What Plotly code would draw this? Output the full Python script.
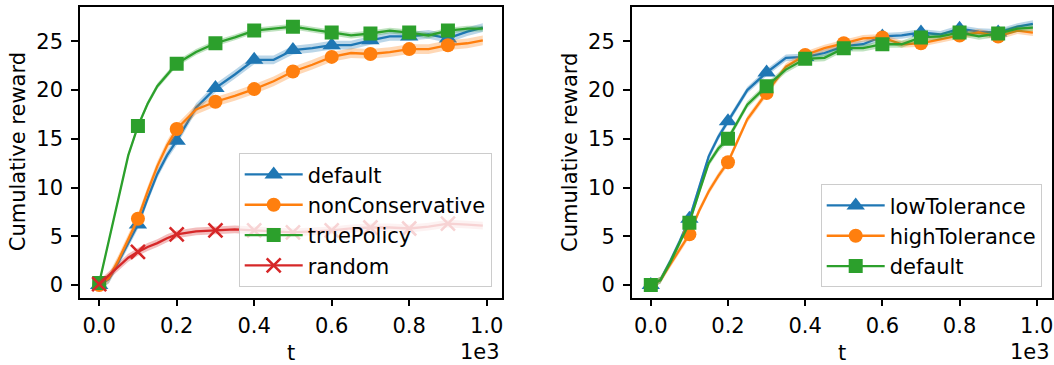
import plotly.graph_objects as go

# time steps at which the averaged reward curves are sampled
T = [0, 25, 50, 75, 100, 125, 150, 175, 200, 250, 300, 350, 400, 450, 500,
     550, 600, 650, 700, 750, 800, 850, 900, 950, 990]

# ---- left panel: policy comparison ----
left_names = ["default", "nonConservative", "truePolicy", "random"]
default_l = [0.0, 0.6, 2.4, 4.3, 6.2, 8.9, 11.4, 13.3, 14.8, 18.2, 20.2, 21.6, 23.1, 23.1,
             24.1, 24.3, 24.6, 24.6, 25.1, 25.5, 25.5, 25.7, 25.3, 26.0, 26.4]
nonconservative_l = [0.0, 0.7, 2.6, 4.7, 6.8, 9.6, 12.2, 14.3, 16.0, 18.0, 18.8, 19.4, 20.1,
                     20.9, 21.9, 22.6, 23.4, 23.8, 23.7, 23.9, 24.2, 24.2, 24.6, 24.8, 25.1]
truepolicy_l = [0.2, 4.6, 9.1, 13.3, 16.3, 18.6, 20.4, 21.6, 22.7, 23.9, 24.8, 25.4, 26.1,
                26.3, 26.5, 26.2, 25.9, 25.6, 25.8, 26.1, 25.9, 25.6, 26.1, 26.3, 26.3]
random_l = [0.1, 1.0, 2.0, 2.8, 3.4, 3.9, 4.3, 4.8, 5.2, 5.5, 5.6, 5.7, 5.6, 5.5, 5.4,
            5.5, 5.6, 5.8, 5.9, 5.9, 5.8, 6.0, 6.3, 6.2, 6.1]
left_std = [0.45, 0.5, 0.3, 0.4]

# ---- right panel: tolerance comparison ----
right_names = ["lowTolerance", "highTolerance", "default"]
lowtol_r = [0.0, 0.5, 2.4, 4.5, 6.8, 10.0, 13.2, 15.2, 16.8, 20.0, 21.8, 23.3, 23.4, 23.8,
            24.5, 24.7, 25.5, 25.6, 25.9, 25.7, 26.3, 26.0, 25.9, 26.5, 26.8]
hightol_r = [0.0, 0.5, 2.1, 3.6, 5.2, 7.6, 9.6, 11.2, 12.6, 17.0, 19.7, 22.4, 23.6, 24.3,
             24.8, 25.3, 25.4, 24.7, 24.8, 25.2, 25.6, 25.9, 25.5, 26.1, 25.9]
default_r = [0.0, 0.5, 2.3, 4.3, 6.4, 9.5, 12.5, 14.0, 15.0, 18.5, 20.4, 22.1, 23.2, 23.3,
             24.3, 24.3, 24.7, 24.7, 25.4, 25.5, 25.9, 25.5, 25.8, 26.3, 26.4]
right_std = [0.35, 0.35, 0.35]

x_tick_vals = [0, 200, 400, 600, 800, 1000]
x_tick_text = ["0.0", "0.2", "0.4", "0.6", "0.8", "1.0"]
y_tick_vals = [0, 5, 10, 15, 20, 25]

COLORS = ["#1f77b4", "#ff7f0e", "#2ca02c", "#d62728"]
FONT = "DejaVu Sans"
FS = 21

def rgba(hex_color, a):
    h = hex_color.lstrip("#")
    r, g, b = int(h[0:2], 16), int(h[2:4], 16), int(h[4:6], 16)
    return f"rgba({r},{g},{b},{a})"

def marker_style(sym, color):
    if sym == "x-thin":
        return dict(symbol=sym, size=14, color=color, line=dict(color=color, width=2.6))
    size = {"triangle-up": 16, "circle": 14, "square": 14}[sym]
    return dict(symbol=sym, size=size, color=color, line=dict(width=0))

fig = go.Figure()

def add_series(name, ys, std, color, sym, xa, ya, legend, group):
    lo = [v - std for v in ys]
    hi = [v + std for v in ys]
    fig.add_trace(go.Scatter(x=T, y=hi, mode="lines", line=dict(width=0, color=color),
                             hoverinfo="skip", showlegend=False, xaxis=xa, yaxis=ya))
    fig.add_trace(go.Scatter(x=T, y=lo, mode="lines", line=dict(width=0, color=color),
                             fill="tonexty", fillcolor=rgba(color, 0.3),
                             hoverinfo="skip", showlegend=False, xaxis=xa, yaxis=ya))
    fig.add_trace(go.Scatter(x=T, y=ys, mode="lines", line=dict(color=color, width=2.3),
                             showlegend=False, xaxis=xa, yaxis=ya))
    mk_x = [t for t in T if t % 100 == 0]
    mk_y = [v for t, v in zip(T, ys) if t % 100 == 0]
    fig.add_trace(go.Scatter(x=mk_x, y=mk_y, mode="markers", marker=marker_style(sym, color),
                             showlegend=False, xaxis=xa, yaxis=ya))
    # legend entry: line with marker
    fig.add_trace(go.Scatter(x=[None], y=[None], mode="lines+markers", name=name,
                             line=dict(color=color, width=2.3), marker=marker_style(sym, color),
                             legend=legend, legendgroup=group, xaxis=xa, yaxis=ya))

left_series = [default_l, nonconservative_l, truepolicy_l, random_l]
left_syms = ["triangle-up", "circle", "square", "x-thin"]
for i, (n, ys) in enumerate(zip(left_names, left_series)):
    add_series(n, ys, left_std[i], COLORS[i], left_syms[i], "x", "y", "legend", f"l{i}")

right_series = [lowtol_r, hightol_r, default_r]
right_syms = ["triangle-up", "circle", "square"]
for i, (n, ys) in enumerate(zip(right_names, right_series)):
    add_series(n, ys, right_std[i], COLORS[i], right_syms[i], "x2", "y2", "legend2", f"r{i}")

W, H = 1054, 365
L_DOM = [80 / W, 502 / W]
R_DOM = [631.7 / W, 1052 / W]
Y_DOM = [1 - 297.7 / H, 1 - 6.7 / H]

axis_common = dict(showgrid=False, zeroline=False, showline=True, linecolor="black",
                   linewidth=1.5, mirror=True, ticks="outside", ticklen=7, tickwidth=1.5,
                   tickcolor="black", tickfont=dict(family=FONT, size=FS, color="black"))

xcommon = dict(axis_common, range=[-49.5, 1039.5], tickvals=x_tick_vals, ticktext=x_tick_text,
               ticklabelstandoff=1)
ycommon = dict(axis_common, range=[-1.3, 28.55], tickvals=y_tick_vals, ticklabelstandoff=4)

legend_common = dict(bgcolor="rgba(255,255,255,0.8)", bordercolor="#cccccc", borderwidth=1,
                     font=dict(family=FONT, size=FS, color="black"), itemwidth=58,
                     tracegroupgap=0, xanchor="right", yanchor="bottom",
                     itemclick=False, itemdoubleclick=False)

annotations = []
for dom in (L_DOM, R_DOM):
    annotations.append(dict(text="t", x=(dom[0] + dom[1]) / 2, y=1 - 353 / H, xref="paper",
                            yref="paper", showarrow=False, xanchor="center", yanchor="middle",
                            font=dict(family=FONT, size=FS, color="black")))
    annotations.append(dict(text="1e3", x=dom[1], y=1 - 352 / H, xref="paper", yref="paper",
                            showarrow=False, xanchor="right", yanchor="middle",
                            font=dict(family=FONT, size=FS, color="black")))
    annotations.append(dict(text="Cumulative reward", x=(dom[0] * W - 62) / W,
                            y=(Y_DOM[0] + Y_DOM[1]) / 2, xref="paper", yref="paper",
                            showarrow=False, textangle=-90, xanchor="center", yanchor="middle",
                            font=dict(family=FONT, size=FS, color="black")))

fig.update_layout(
    width=W, height=H,
    margin=dict(l=0, r=0, t=0, b=0),
    paper_bgcolor="white", plot_bgcolor="white",
    font=dict(family=FONT, size=FS, color="black"),
    xaxis=dict(xcommon, domain=L_DOM, anchor="y"),
    yaxis=dict(ycommon, domain=Y_DOM, anchor="x"),
    xaxis2=dict(xcommon, domain=R_DOM, anchor="y2"),
    yaxis2=dict(ycommon, domain=Y_DOM, anchor="x2"),
    legend=dict(legend_common, x=491.7 / W, y=1 - 287.3 / H),
    legend2=dict(legend_common, x=1041.7 / W, y=1 - 287.3 / H),
    annotations=annotations,
    showlegend=True,
)

fig.write_html("out.html", config={"displayModeBar": False})
